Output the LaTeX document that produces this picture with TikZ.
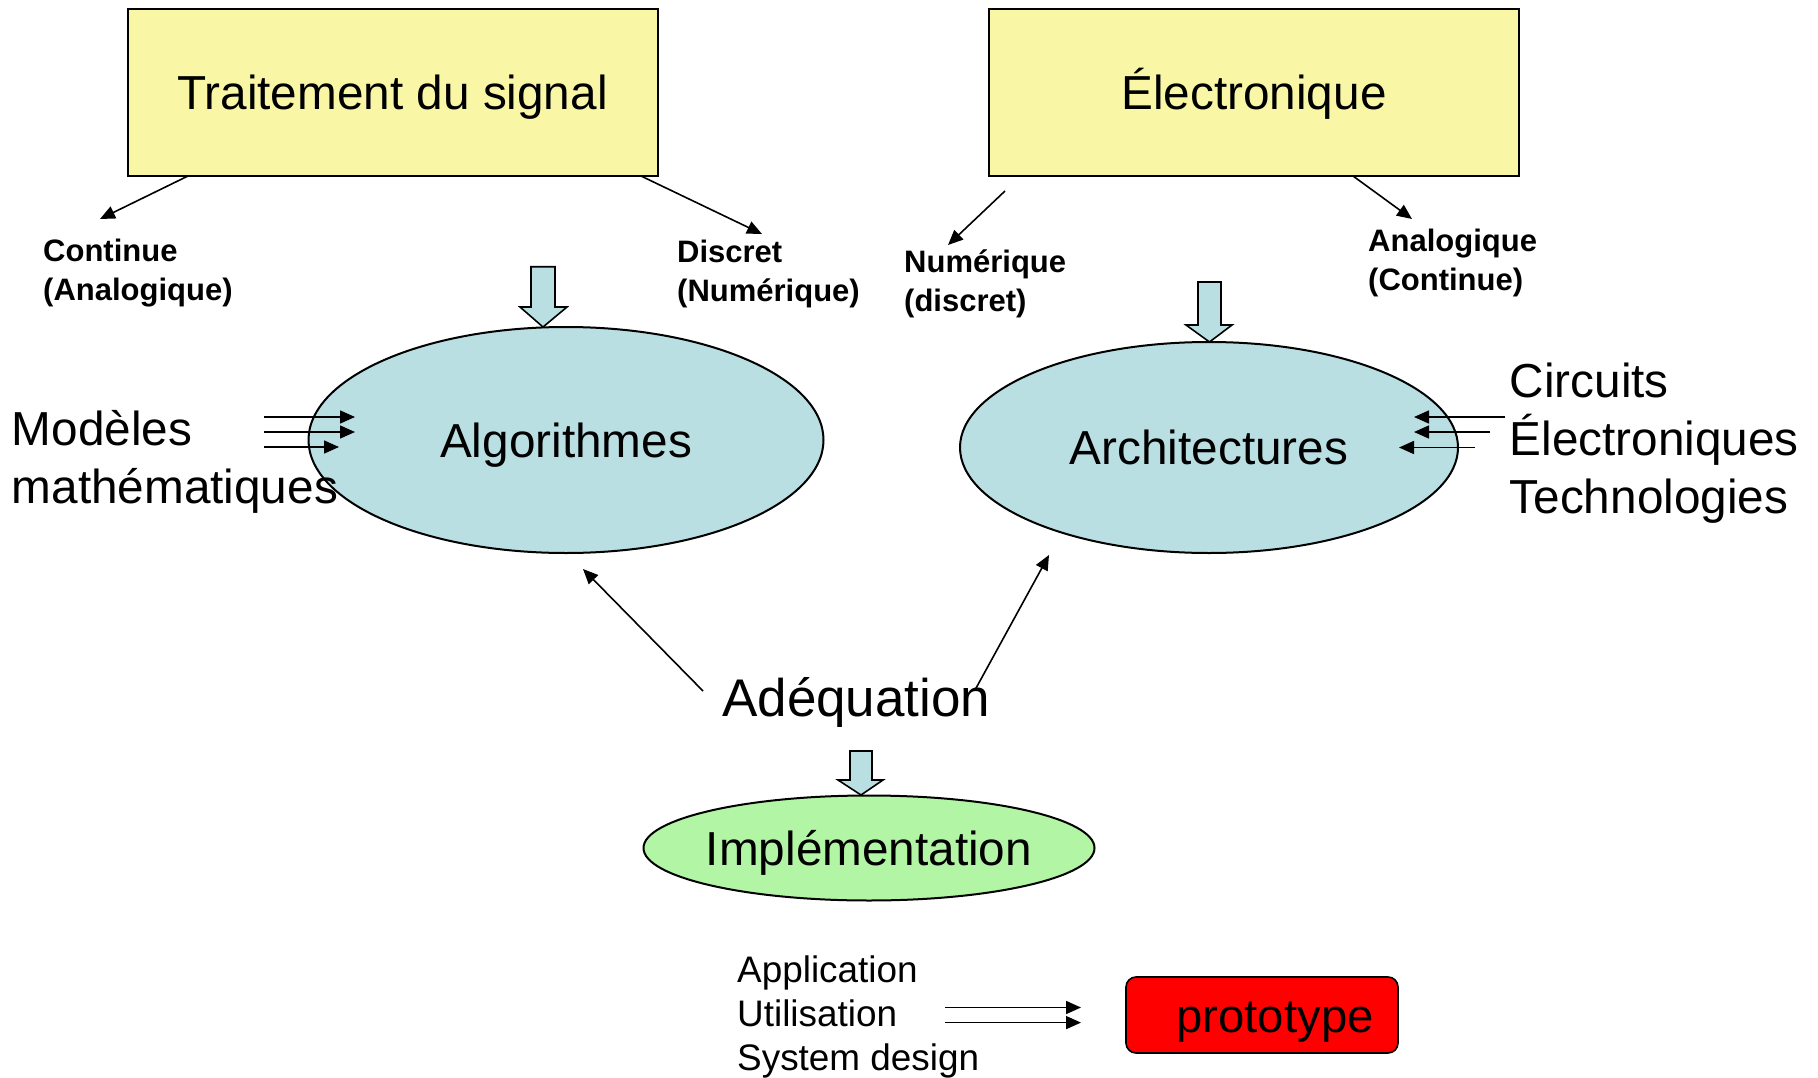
\documentclass[tikz,border=0pt]{standalone}
\usepackage{fontspec}
\setmainfont{Liberation Sans}
\usetikzlibrary{shapes.geometric,arrows.meta}
\definecolor{boxyellow}{HTML}{F9F7A6}
\definecolor{ellblue}{HTML}{B9DFE3}
\definecolor{ellgreen}{HTML}{B2F6A5}
\definecolor{protored}{HTML}{FF0000}
\tikzset{
  topbox/.style={draw, line width=2pt, fill=boxyellow, minimum width=530pt, minimum height=167pt, inner sep=0pt, text height=44pt, text depth=10pt, font=\fontsize{47.7}{57}\selectfont},
  ellnode/.style={ellipse, draw, line width=2pt, inner sep=0pt, text height=44pt, text depth=10pt, font=\fontsize{47.7}{57}\selectfont},
  smalllbl/.style={anchor=west, align=left, inner sep=0pt, font=\fontsize{31}{39}\selectfont\bfseries},
  biglbl/.style={anchor=west, align=left, inner sep=0pt, font=\fontsize{47.7}{58}\selectfont},
  medlbl/.style={anchor=west, align=left, inner sep=0pt, font=\fontsize{36.9}{44}\selectfont},
  thinarrow/.style={line width=1.6pt, -{Triangle[length=15pt,width=13pt]}},
  blockarrow/.style={draw, line width=1.6pt, fill=ellblue, line join=miter},
}
\begin{document}
\begin{tikzpicture}[x=1pt,y=-1pt]
\useasboundingbox (0,0) rectangle (1818,1078);

% top boxes
\node[topbox] (ts) at (392.5,92.7) {Traitement du signal};
\node[topbox] (el) at (1254,92.7) {Électronique};

% small labels
\node[smalllbl] (cont) at (43,273.5) {Continue\\(Analogique)};
\node[smalllbl] (disc) at (677,273.5) {Discret\\(Numérique)};
\node[smalllbl] (num) at (904,283.5) {Numérique\\(discret)};
\node[smalllbl] (ana) at (1368,262.5) {Analogique\\(Continue)};

% thin arrows from boxes
\coordinate (c1s) at (188,176);  \coordinate (c1e) at (100,219);
\coordinate (c2s) at (641,176);  \coordinate (c2e) at (762,234);
\coordinate (c3s) at (1005,191); \coordinate (c3e) at (948,245);
\coordinate (c4s) at (1353,176); \coordinate (c4e) at (1412,219);
\draw[thinarrow] (c1s) -- (c1e);
\draw[thinarrow] (c2s) -- (c2e);
\draw[thinarrow] (c3s) -- (c3e);
\draw[thinarrow] (c4s) -- (c4e);

% ellipses
\node[ellnode, fill=ellblue, minimum width=515pt, minimum height=226pt] (alg) at (566,440) {Algorithmes};
\node[ellnode, fill=ellblue, minimum width=498pt, minimum height=211pt] (arch) at (1209,447.5) {Architectures};
\node[ellnode, fill=ellgreen, inner xsep=-4pt, minimum width=451pt, minimum height=105pt] (impl) at (869,848) {Implémentation};

% block arrows
\draw[blockarrow] (531,266.7) -- (555,266.7) -- (555,307) -- (567,307) -- (543,327) -- (520,307) -- (531,307) -- cycle;
\draw[blockarrow] (1198,282) -- (1221,282) -- (1221,325) -- (1232,325) -- (1209.5,342) -- (1186,325) -- (1198,325) -- cycle;
\draw[blockarrow] (850,751) -- (872,751) -- (872,780) -- (883,780) -- (861,795) -- (838,780) -- (850,780) -- cycle;

% Modèles mathématiques
\node[biglbl] (mod) at (11.6,461.5) {Modèles\\mathématiques};
\coordinate (m1s) at (264,417); \coordinate (m1e) at (355,417);
\coordinate (m2s) at (264,432); \coordinate (m2e) at (355,432);
\coordinate (m3s) at (264,447); \coordinate (m3e) at (339,447);
\draw[thinarrow] (m1s) -- (m1e);
\draw[thinarrow] (m2s) -- (m2e);
\draw[thinarrow] (m3s) -- (m3e);

% Circuits Électroniques Technologies
\node[biglbl] (circ) at (1509.5,443.5) {Circuits\\Électroniques\\Technologies};
\coordinate (r1s) at (1505,417); \coordinate (r1e) at (1414,417);
\coordinate (r2s) at (1490,432); \coordinate (r2e) at (1414,432);
\coordinate (r3s) at (1475,447.5); \coordinate (r3e) at (1399,447.5);
\draw[thinarrow] (r1s) -- (r1e);
\draw[thinarrow] (r2s) -- (r2e);
\draw[thinarrow] (r3s) -- (r3e);

% Adéquation
\node[anchor=west, inner sep=0pt, font=\fontsize{53}{63}\selectfont] (adeq) at (722,702.5) {Adéquation};
\coordinate (a1s) at (703,691); \coordinate (a1e) at (583,569);
\coordinate (a2s) at (975,690); \coordinate (a2e) at (1049,555);
\draw[thinarrow] (a1s) -- (a1e);
\draw[thinarrow] (a2s) -- (a2e);

% bottom
\node[medlbl] (app) at (737,1017) {Application\\Utilisation\\System design};
\node[draw, line width=1.6pt, fill=protored, rounded corners=10pt, minimum width=272pt, minimum height=76pt, inner sep=0pt, text height=44pt, text depth=10pt, font=\fontsize{47.3}{57}\selectfont] (proto) at (1262,1015) {\hspace*{26pt}prototype};
\coordinate (p1s) at (945,1007.5); \coordinate (p1e) at (1081,1007.5);
\coordinate (p2s) at (945,1022.6); \coordinate (p2e) at (1081,1022.6);
\draw[thinarrow] (p1s) -- (p1e);
\draw[thinarrow] (p2s) -- (p2e);
\end{tikzpicture}
\end{document}
